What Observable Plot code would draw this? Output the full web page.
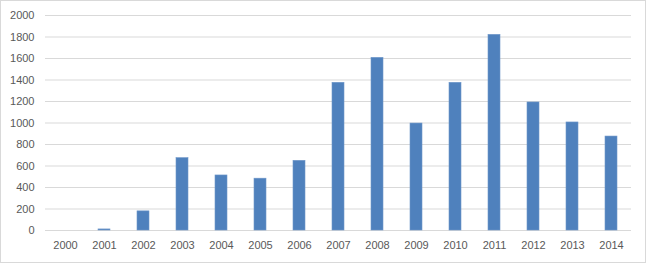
<!DOCTYPE html>
<html>
<head>
<meta charset="utf-8">
<script src="https://cdn.jsdelivr.net/npm/d3@7"></script>
<script src="https://cdn.jsdelivr.net/npm/@observablehq/plot@0.6"></script>
<style>
  html, body { margin: 0; padding: 0; background: #fff; }
  #chart svg { display: block; outline: 1px solid #d9d9d9; outline-offset: -1px; }
</style>
</head>
<body>
<div id="chart"></div>
<script>
const years = ["2000","2001","2002","2003","2004","2005","2006","2007","2008","2009","2010","2011","2012","2013","2014"];
const values = [0, 10, 178, 673, 512, 482, 648, 1374, 1606, 995, 1374, 1820, 1191, 1005, 874];
const yTicks = [0, 200, 400, 600, 800, 1000, 1200, 1400, 1600, 1800, 2000];

const data = years.map((y, i) => ({year: y, value: values[i]}));

const chart = Plot.plot({
  width: 646,
  height: 263,
  marginLeft: 45,
  marginRight: 15,
  marginTop: 15,
  marginBottom: 33,
  style: {fontFamily: "Liberation Sans, Arial, sans-serif", fontSize: "11px", color: "#595959", background: "#fff"},
  x: {domain: years, paddingInner: 0.686, paddingOuter: 0.343, label: null},
  y: {domain: [0, 2000], label: null},
  marks: [
    Plot.gridY(yTicks, {stroke: "#d9d9d9", strokeOpacity: 1, strokeWidth: 1}),
    Plot.barY(data, {x: "year", y: "value", fill: "#4f81bd", stroke: "#6f97c9", strokeWidth: 0.6}),
    Plot.axisY(yTicks, {tickSize: 0, tickPadding: 11, label: null, fill: "#595959", tickFormat: d => String(d)}),
    Plot.axisX({tickSize: 0, tickPadding: 11, label: null, fill: "#595959"})
  ]
});
document.getElementById("chart").appendChild(chart);
</script>
</body>
</html>
